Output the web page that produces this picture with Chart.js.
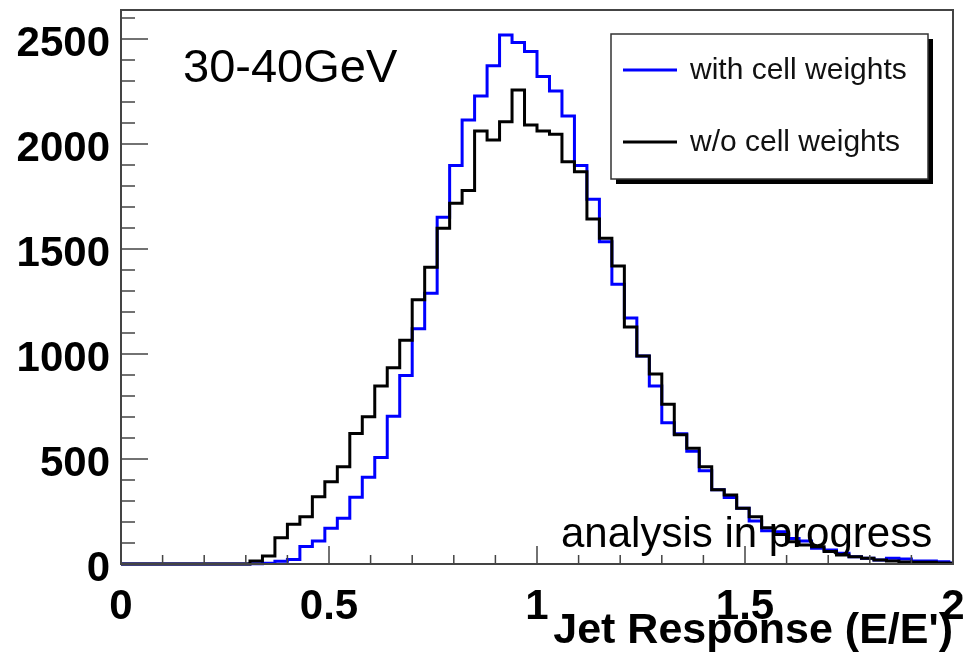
<!DOCTYPE html>
<html>
<head>
<meta charset="utf-8">
<script src="https://cdn.jsdelivr.net/npm/chart.js@4"></script>
<style>
  html, body { margin: 0; padding: 0; background: #fff; }
  #wrap { width: 963px; height: 656px; }
</style>
</head>
<body>
<div id="wrap"><canvas id="responseChart" width="963" height="656"></canvas></div>
<script>
// histogram binning (bin low edges start at 0.01, width 0.03)
const binStart = 0.01;
const binWidth = 0.03;
const xMin = 0, xMax = 2;
const yMin = 0, yMax = 2638;

const seriesLabels = ['with cell weights', 'w/o cell weights'];
const seriesColors = ['#0000ff', '#000000'];

// counts per bin
const withWeights = [
  0, 0, 0, 0, 0, 0, 0, 0, 0, 0,
  1, 3, 13, 21, 83, 110, 170, 218, 318, 413,
  507, 703, 897, 1120, 1289, 1651, 1897, 2114, 2229, 2373,
  2519, 2483, 2440, 2321, 2252, 2133, 1897, 1737, 1535, 1332,
  1171, 990, 848, 673, 620, 537, 444, 354, 317, 266,
  205, 158, 154, 122, 110, 75, 67, 51, 35, 27,
  19, 27, 24, 14, 14, 11, 5
];
const withoutWeights = [
  0, 0, 0, 0, 0, 0, 0, 0, 0, 0,
  14, 38, 125, 189, 225, 320, 392, 463, 622, 701,
  848, 935, 1065, 1258, 1413, 1599, 1718, 1778, 2062, 2019,
  2106, 2257, 2090, 2062, 2046, 1916, 1868, 1643, 1551, 1419,
  1128, 990, 905, 761, 615, 551, 463, 354, 329, 266,
  225, 173, 141, 106, 90, 82, 59, 43, 35, 27,
  19, 14, 10, 8, 8, 5, 3
];

const xTickLabels = [0, 0.5, 1, 1.5, 2];
const yTickLabels = [0, 500, 1000, 1500, 2000, 2500];
const xTitle = "Jet Response (E/E')";
const energyLabel = '30-40GeV';
const statusLabel = 'analysis in progress';

// turn counts into step points (low edge of each bin, closed at xMax)
function toSteps(counts) {
  const pts = [{ x: xMin, y: 0 }];
  counts.forEach((c, i) => pts.push({ x: binStart + i * binWidth, y: c }));
  pts.push({ x: xMax, y: counts[counts.length - 1] });
  return pts;
}

// frame, inner tick marks, legend box and text labels
const rootStyle = {
  id: 'rootStyle',
  afterDatasetsDraw(chart) {
    const { ctx, chartArea: a, scales } = chart;
    const xs = scales.x, ys = scales.y;
    ctx.save();
    ctx.strokeStyle = '#444';
    ctx.lineWidth = 2;
    ctx.strokeRect(a.left, a.top, a.right - a.left, a.bottom - a.top);

    ctx.lineWidth = 1.5;
    ctx.beginPath();
    for (let i = 0; i <= 20; i++) {
      const v = i / 10;
      const px = xs.getPixelForValue(v);
      const len = i % 5 === 0 ? 18 : 9;
      ctx.moveTo(px, a.bottom);
      ctx.lineTo(px, a.bottom - len);
    }
    for (let v = 0; v <= yMax; v += 100) {
      const py = ys.getPixelForValue(v);
      const len = v % 500 === 0 ? 27 : 14;
      ctx.moveTo(a.left, py);
      ctx.lineTo(a.left + len, py);
    }
    ctx.stroke();

    // legend
    const lx = 611, ly = 34, lw = 317, lh = 145;
    ctx.fillStyle = '#000';
    ctx.fillRect(lx + 5, ly + 5, lw, lh);
    ctx.fillStyle = '#fff';
    ctx.fillRect(lx, ly, lw, lh);
    ctx.strokeStyle = '#333';
    ctx.lineWidth = 1.5;
    ctx.strokeRect(lx, ly, lw, lh);
    const rows = [70, 142];
    ctx.font = '30px "Liberation Sans", Arial, sans-serif';
    ctx.textBaseline = 'middle';
    chart.data.datasets.forEach((ds, i) => {
      ctx.strokeStyle = ds.borderColor;
      ctx.lineWidth = 3;
      ctx.beginPath();
      ctx.moveTo(623, rows[i]);
      ctx.lineTo(677, rows[i]);
      ctx.stroke();
      ctx.fillStyle = '#111';
      ctx.fillText(ds.label, 690, rows[i] + 1);
    });

    ctx.fillStyle = '#000';
    ctx.textBaseline = 'alphabetic';
    ctx.font = '47px "Liberation Sans", Arial, sans-serif';
    ctx.fillText(energyLabel, 183, 82);
    ctx.font = '42px "Liberation Sans", Arial, sans-serif';
    ctx.fillText(statusLabel, 561, 547);
    ctx.restore();
  }
};

const ctx = document.getElementById('responseChart').getContext('2d');
new Chart(ctx, {
  type: 'line',
  data: {
    datasets: [
      {
        label: seriesLabels[0],
        data: toSteps(withWeights),
        borderColor: seriesColors[0],
        borderWidth: 3,
        stepped: 'before',
        pointRadius: 0,
        fill: false,
        order: 2,
        clip: 4
      },
      {
        label: seriesLabels[1],
        data: toSteps(withoutWeights),
        borderColor: seriesColors[1],
        borderWidth: 3,
        stepped: 'before',
        pointRadius: 0,
        fill: false,
        order: 1,
        clip: 4
      }
    ]
  },
  options: {
    responsive: false,
    animation: false,
    layout: { padding: { top: 10, right: 10, left: 0, bottom: 0 } },
    plugins: { legend: { display: false }, tooltip: { enabled: false } },
    scales: {
      x: {
        type: 'linear',
        min: xMin,
        max: xMax,
        afterFit: s => { s.height = 92; s.paddingLeft = 0; s.paddingRight = 0; },
        afterBuildTicks: s => { s.ticks = xTickLabels.map(v => ({ value: v })); },
        grid: { display: false, drawTicks: false },
        border: { display: false },
        ticks: {
          autoSkip: false,
          maxRotation: 0,
          padding: 18,
          color: '#000',
          font: { family: '"Liberation Sans", Arial, sans-serif', size: 42, weight: 'bold' },
          callback: v => String(v)
        },
        title: {
          display: true,
          text: xTitle,
          align: 'end',
          color: '#000',
          padding: { top: 0, bottom: 3 },
          font: { family: '"Liberation Sans", Arial, sans-serif', size: 43, weight: 'bold', lineHeight: 1 }
        }
      },
      y: {
        type: 'linear',
        min: yMin,
        max: yMax,
        afterFit: s => { s.width = 121; s.paddingTop = 0; s.paddingBottom = 0; },
        afterBuildTicks: s => { s.ticks = yTickLabels.map(v => ({ value: v })); },
        grid: { display: false, drawTicks: false },
        border: { display: false },
        ticks: {
          autoSkip: false,
          padding: 11,
          labelOffset: 5,
          color: '#000',
          font: { family: '"Liberation Sans", Arial, sans-serif', size: 42, weight: 'bold' },
          callback: v => String(v)
        }
      }
    }
  },
  plugins: [rootStyle]
});
</script>
</body>
</html>
